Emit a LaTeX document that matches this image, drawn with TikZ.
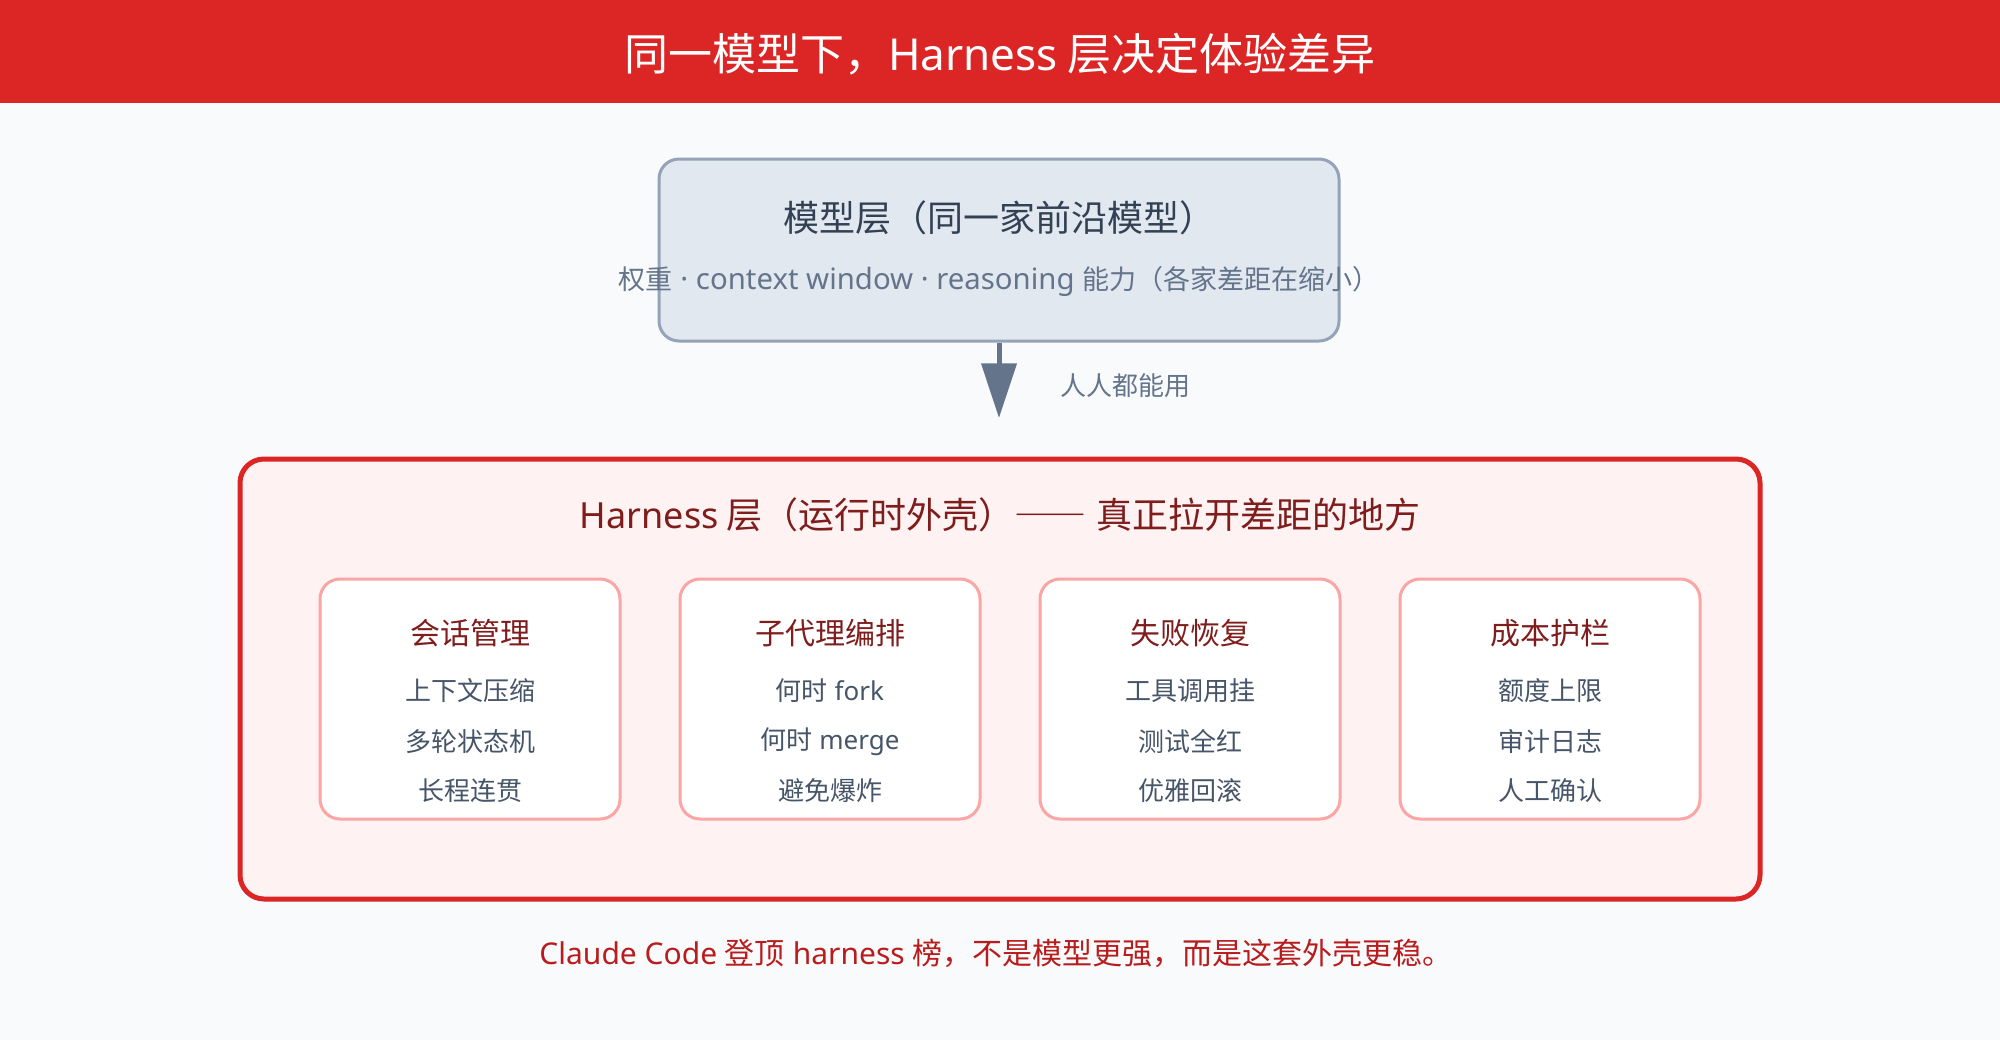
\documentclass[tikz,border=0pt]{standalone}
\usepackage{fontspec}
\setmainfont{Noto Sans CJK SC}
\newfontfamily\latinfont{Noto Sans}
\newcommand{\lat}[1]{{\latinfont #1}}
\newcommand{\longdash}{{\addfontfeatures{RawFeature=+fwid}——}}
\usetikzlibrary{positioning, arrows.meta}
\definecolor{pagebg}{HTML}{F8FAFC}
\definecolor{bannerred}{HTML}{DC2626}
\definecolor{modelfill}{HTML}{E2E8F0}
\definecolor{modeledge}{HTML}{94A3B8}
\definecolor{slatedark}{HTML}{334155}
\definecolor{slatemid}{HTML}{475569}
\definecolor{slatelight}{HTML}{64748B}
\definecolor{harnessfill}{HTML}{FEF2F2}
\definecolor{cardedge}{HTML}{FCA5A5}
\definecolor{darkred}{HTML}{7F1D1D}
\definecolor{footred}{HTML}{B91C1C}
\tikzset{
    % Node Styles
    banner/.style={
        rectangle, fill=bannerred, text=white, inner sep=0pt,
        minimum width=1500pt, minimum height=77.25pt,
        font=\fontsize{33pt}{38pt}\selectfont
    },
    modelbox/.style={
        rectangle, draw=modeledge, fill=modelfill, line width=2.25pt,
        rounded corners=15pt, minimum width=510pt, minimum height=136.5pt
    },
    layerbox/.style={
        rectangle, draw=bannerred, fill=harnessfill, line width=3.75pt,
        rounded corners=18pt, minimum width=1140pt, minimum height=330pt
    },
    card/.style={
        rectangle, draw=cardedge, fill=white, line width=2.25pt,
        rounded corners=15pt, minimum width=225pt, minimum height=180pt
    },
    modeltitle/.style={text=slatedark, inner sep=0pt, font=\fontsize{27pt}{32pt}\selectfont},
    modelsub/.style={text=slatelight, inner sep=0pt, font=\fontsize{20.25pt}{24pt}\selectfont},
    arrowlabel/.style={text=slatelight, inner sep=0pt, font=\fontsize{19.5pt}{24pt}\selectfont},
    layertitle/.style={text=darkred, inner sep=0pt, font=\fontsize{27pt}{32pt}\selectfont},
    cardtitle/.style={text=darkred, inner sep=0pt, font=\fontsize{22.5pt}{27pt}\selectfont},
    carditem/.style={text=slatemid, inner sep=0pt, font=\fontsize{19.5pt}{24pt}\selectfont},
    footnote_text/.style={text=footred, inner sep=0pt, font=\fontsize{22.5pt}{27pt}\selectfont},
    % Arrow Styles
    flow_arrow/.style={-{Triangle[length=41pt, width=26pt]}, line width=3.75pt, color=slatelight}
}
\begin{document}
\begin{tikzpicture}[x=0.75pt, y=-0.75pt]

    % --- 0. Page and banner ---
    \fill[pagebg] (0,0) rectangle (2000,1040);
    \node [banner] (banner) at (1000,51.5) {};
    \node [text=white, inner sep=0pt, font=\fontsize{33pt}{38pt}\selectfont] (bannertext) at ([yshift=-2pt]banner.center) {同一模型下，\lat{Harness} 层决定体验差异};

    % --- 1. Model layer ---
    \node [modelbox] (model) at (999,250) {};
    \node [modeltitle] (modeltitle) at ([yshift=24pt]model.center) {模型层（同一家前沿模型）};
    \node [modelsub] (modelsub) at ([yshift=-23.5pt]model.center) {权重{\fontsize{22pt}{24pt}\selectfont\lat{ · context window · reasoning }}能力（各家差距在缩小）};

    % Model -> Harness
    \coordinate (arrowtip) at (999,418);
    \draw [flow_arrow] (model.south) -- (arrowtip);
    \node [arrowlabel, anchor=west] (everyone) at (1060,386) {人人都能用};

    % --- 2. Harness layer ---
    \node [layerbox] (harness) at (1000,679) {};
    \node [layertitle] (harnesstitle) at ([yshift=-44pt]harness.north) {\lat{Harness} 层（运行时外壳）\longdash\lat{ }真正拉开差距的地方};

    % --- 3. Harness cards ---
    \node [card] (session) at (470,699) {};
    \node [card, right=42.75pt of session] (subagent) {};
    \node [card, right=42.75pt of subagent] (recovery) {};
    \node [card, right=42.75pt of recovery] (budget) {};

    \node [cardtitle] at ([yshift=-42pt]session.north) {会话管理};
    \node [carditem] at ([yshift=-85pt]session.north) {上下文压缩};
    \node [carditem] at ([yshift=-123pt]session.north) {多轮状态机};
    \node [carditem] at ([yshift=-160pt]session.north) {长程连贯};

    \node [cardtitle] at ([yshift=-42pt]subagent.north) {子代理编排};
    \node [carditem] at ([yshift=-85pt]subagent.north) {何时\lat{ fork}};
    \node [carditem] at ([yshift=-123pt]subagent.north) {何时\lat{ merge}};
    \node [carditem] at ([yshift=-160pt]subagent.north) {避免爆炸};

    \node [cardtitle] at ([yshift=-42pt]recovery.north) {失败恢复};
    \node [carditem] at ([yshift=-85pt]recovery.north) {工具调用挂};
    \node [carditem] at ([yshift=-123pt]recovery.north) {测试全红};
    \node [carditem] at ([yshift=-160pt]recovery.north) {优雅回滚};

    \node [cardtitle] at ([yshift=-42pt]budget.north) {成本护栏};
    \node [carditem] at ([yshift=-85pt]budget.north) {额度上限};
    \node [carditem] at ([yshift=-123pt]budget.north) {审计日志};
    \node [carditem] at ([yshift=-160pt]budget.north) {人工确认};

    % --- 4. Conclusion ---
    \node [footnote_text] (verdict) at (996,953) {\lat{Claude Code }登顶\lat{ harness }榜，不是模型更强，而是这套外壳更稳。};

\end{tikzpicture}
\end{document}
